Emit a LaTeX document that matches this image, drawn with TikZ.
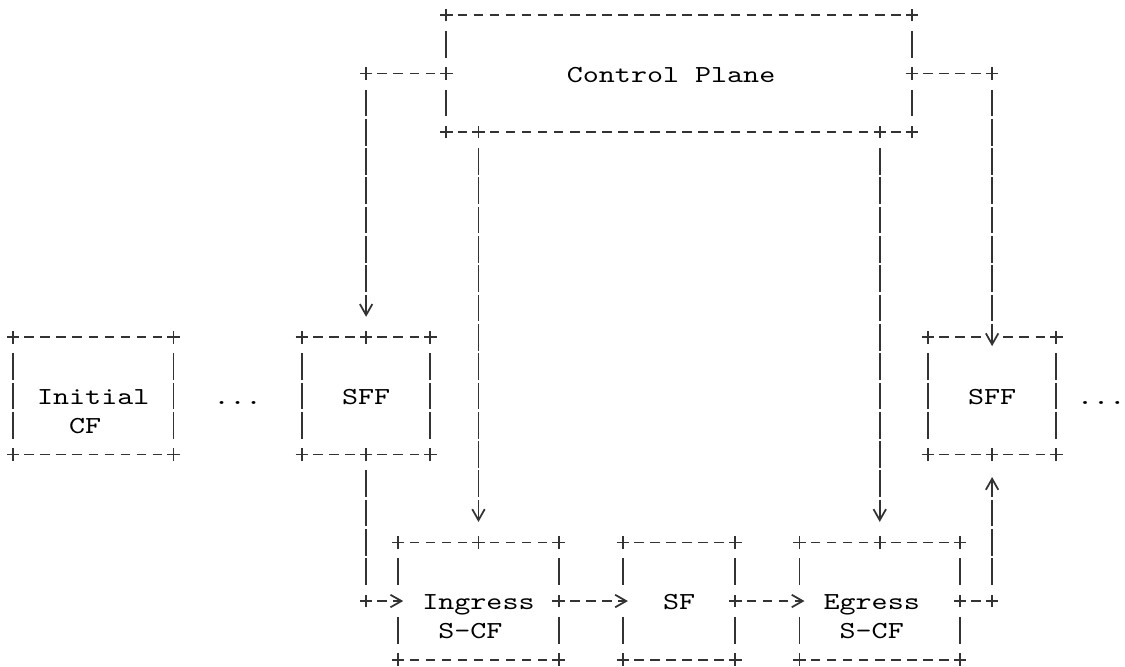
\documentclass[tikz,border=0pt]{standalone}
\usepackage{fontspec}
\newfontfamily\asciifont{lmmono10-regular.otf}[FakeStretch=1.25]
\usetikzlibrary{arrows.meta}

\definecolor{asciigray}{gray}{0.2}

\tikzset{
cell/.style 2 args={inner sep=0pt,outer sep=0pt,
  minimum width=#1*0.321cm,minimum height=#2*0.586cm},
txt/.style={font=\asciifont\fontsize{13.9pt}{13.9pt}\selectfont,
  anchor=base,inner sep=0pt},
hline/.style={asciigray,line width=1pt,
  dash pattern=on 0.19cm off 0.131cm,dash phase=0.2555cm,
  shorten <=0.1605cm,shorten >=0.1605cm},
vline/.style={asciigray,line width=1pt,
  dash pattern=on 0.534cm off 0.052cm,dash phase=0.56cm,
  shorten <=0.293cm,shorten >=0.293cm},
plusmark/.style={asciigray,line width=1pt},
arrowv/.style={-{Straight Barb[length=0.22cm,width=0.25cm]}}
}

\begin{document}
\begin{tikzpicture}[x=0.321cm,y=-0.586cm]

\useasboundingbox
(-0.81,-0.512)
rectangle
(69.28,22.22);

% Boxes
\node[cell={29}{4}] (cp) at (41.5,2) {};
\node[cell={10}{4}] (icf) at (5,13) {};
\node[cell={8}{4}] (sffa) at (22,13) {};
\node[cell={8}{4}] (sffb) at (61,13) {};
\node[cell={10}{4}] (ing) at (29,20) {};
\node[cell={7}{4}] (sf) at (41.5,20) {};
\node[cell={10}{4}] (egr) at (54,20) {};

\foreach \b in {cp,icf,sffa,ing,sf,egr}
  \draw[hline]
  (\b.north west)
  --
  (\b.north east);

\draw[hline] (sffb.north west) -- (sffb.north);
\draw[hline] (sffb.north) -- (sffb.north east);

\foreach \b in {cp,icf,sffa,sffb,ing,sf,egr}
  \draw[hline]
  (\b.south west)
  --
  (\b.south east);

\foreach \b in {icf,sffa,sffb}{
  \draw[vline] (\b.north west) -- (\b.south west);
  \draw[vline] (\b.north east) -- (\b.south east);
}

\foreach \b in {cp,ing,sf,egr}
  \foreach \s in {west,east}{
    \draw[vline] (\b.north \s) -- (\b.\s);
    \draw[vline] (\b.\s) -- (\b.south \s);
  }

% Labels
\node[txt] (cpname) at (41,2.29) {Control Plane};
\node[txt] (icfa) at (5,13.29) {Initial};
\node[txt] (icfb) at (4.5,14.29) {CF};
\node[txt] (dotsa) at (14,13.29) {...};
\node[txt] (sffaname) at (22,13.29) {SFF};
\node[txt] (sffbname) at (61,13.29) {SFF};
\node[txt] (dotsb) at (67.8,13.29) {...};
\node[txt] (inga) at (29,20.29) {Ingress};
\node[txt] (ingb) at (28.5,21.29) {S-CF};
\node[txt] (sfname) at (41.5,20.29) {SF};
\node[txt] (egra) at (53.5,20.29) {Egress};
\node[txt] (egrb) at (53.5,21.29) {S-CF};

% Corners of the links
\coordinate (cpsffa) at (sffa.north |- cp.west);
\coordinate (cpsffb) at (sffb.north |- cp.east);
\coordinate (cping) at (ing.north |- cp.south);
\coordinate (cpegr) at (egr.north |- cp.south);
\coordinate (sffaing) at (sffa.south |- ing.west);
\coordinate (egrsffb) at (sffb.south |- egr.east);

% Control plane links
\draw[hline] (cp.west) -- (cpsffa);
\draw[vline,arrowv,shorten >=0.41cm] (cpsffa) -- (sffa.north);

\draw[hline] (cp.east) -- (cpsffb);
\draw[vline,arrowv,shorten >=-0.176cm] (cpsffb) -- (sffb.north);

\draw[vline,arrowv,shorten >=0.41cm] (cping) -- (ing.north);
\draw[vline,arrowv,shorten >=0.41cm] (cpegr) -- (egr.north);

% Chain
\draw[vline] (sffa.south) -- (sffaing);
\draw[hline,arrowv,shorten >=-0.1cm] (sffaing) -- (ing.west);
\draw[hline,arrowv,shorten >=-0.1cm] (ing.east) -- (sf.west);
\draw[hline,arrowv,shorten >=-0.1cm] (sf.east) -- (egr.west);
\draw[hline] (egr.east) -- (egrsffb);
\draw[vline,arrowv,shorten >=0.45cm] (egrsffb) -- (sffb.south);

% Plus marks
\foreach \b in {cp,icf,sffa,sffb,ing,sf,egr}
  \foreach \a in {north west,north east,south west,south east}
    \draw[plusmark]
    (\b.\a) +(-0.125cm,0) -- +(0.125cm,0)
    (\b.\a) +(0,-0.125cm) -- +(0,0.125cm);

\foreach \c in {cp.west,cp.east,cpsffa,cpsffb,cping,cpegr,
  sffa.north,sffa.south,sffb.south,ing.north,egr.north,
  ing.east,sf.east,egr.east,sffaing,egrsffb}
  \draw[plusmark]
  (\c) +(-0.125cm,0) -- +(0.125cm,0)
  (\c) +(0,-0.125cm) -- +(0,0.125cm);

\end{tikzpicture}
\end{document}
